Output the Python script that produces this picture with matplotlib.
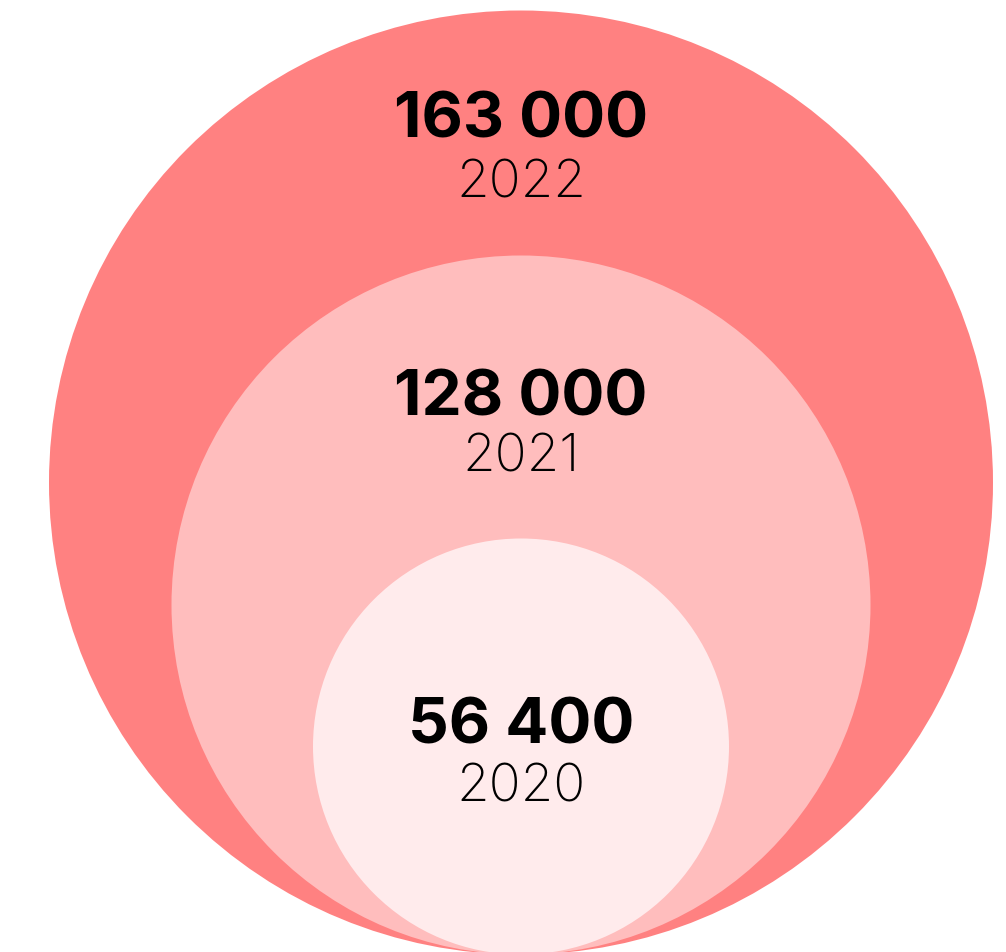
import matplotlib.pyplot as plt
from matplotlib.patches import Circle

# data
years = ['2022', '2021', '2020']
values = ['163 000', '128 000', '56 400']
radii = [472, 349.5, 208]
colors = ['#FF8181', '#FFBDBD', '#FFEBEC']
# baselines of labels (px from top)
value_base = [138, 415, 743]
year_base = [197, 472, 801]

fig = plt.figure(figsize=(10.06, 9.52), dpi=100)
ax = fig.add_axes([0, 0, 1, 1])
ax.set_xlim(0, 1006)
ax.set_ylim(952, 0)
ax.set_aspect('equal')
ax.axis('off')

cx = 521
bottom = 954.5
for r, c in zip(radii, colors):
    ax.add_patch(Circle((cx, bottom - r), r, facecolor=c, edgecolor='none'))

for v, y, vb, yb in zip(values, years, value_base, year_base):
    ax.text(cx, vb, v, ha='center', va='baseline', fontsize=46, fontweight='bold',
            family=['Inter', 'DejaVu Sans'], color='black')
    ax.text(cx, yb, y, ha='center', va='baseline', fontsize=38, fontweight='light',
            family=['Inter', 'DejaVu Sans'], color='black')

fig.savefig('out.png', dpi=100)
